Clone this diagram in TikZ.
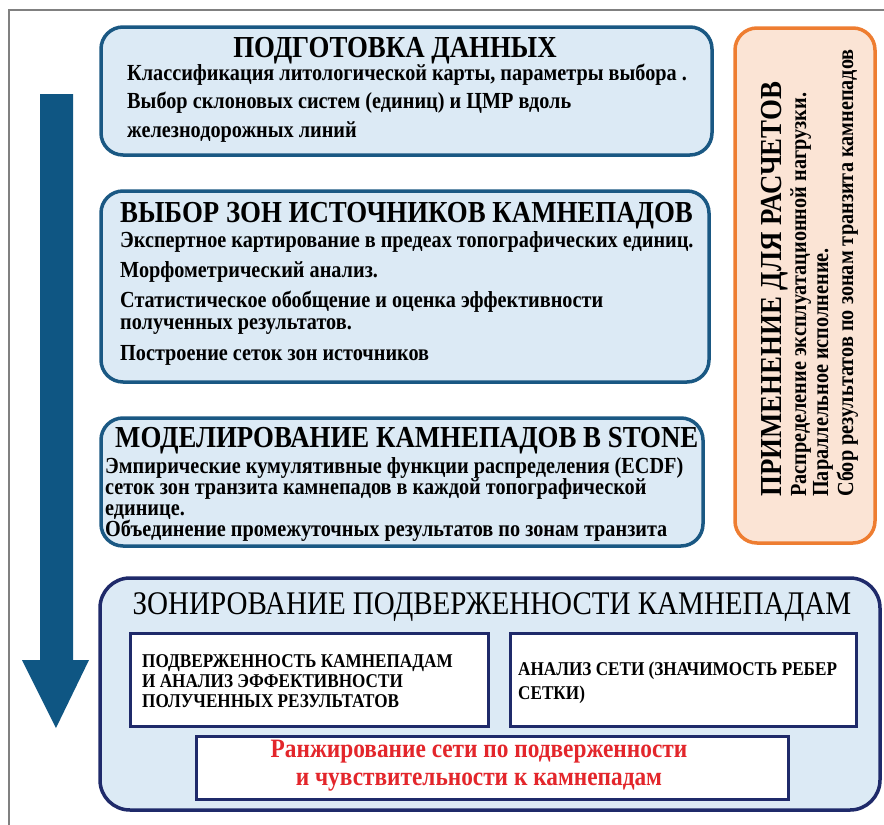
\documentclass[tikz,border=0pt]{standalone}
\usepackage{fontspec}
\setmainfont{Liberation Serif}[FakeStretch=0.88]
\usetikzlibrary{positioning}
\definecolor{boxblue}{HTML}{DCEAF5}
\definecolor{edgeblue}{HTML}{1A5883}
\definecolor{arrowblue}{HTML}{0F5683}
\definecolor{navy}{HTML}{1F2A6A}
\definecolor{peach}{HTML}{FBE4D5}
\definecolor{orangeedge}{HTML}{EE7D31}
\definecolor{rankred}{HTML}{E3262B}
\definecolor{framegray}{HTML}{808080}

\begin{document}
\begin{tikzpicture}[x=1pt, y=-1pt,
  stage/.style={draw=edgeblue, fill=boxblue, line width=3.5pt, rounded corners=22pt, inner sep=0pt},
  usebox/.style={draw=orangeedge, fill=peach, line width=3.5pt, rounded corners=22pt, inner sep=0pt},
  zonebox/.style={draw=navy, fill=boxblue, line width=3.5pt, rounded corners=30pt, inner sep=0pt},
  subbox/.style={draw=navy, fill=white, line width=3pt, inner sep=0pt},
  head/.style={font=\bfseries\fontsize{30.5}{32}\selectfont, inner sep=0pt, anchor=base west},
  line/.style={font=\bfseries\fontsize{23}{24}\selectfont, inner sep=0pt, anchor=base west},
  capline/.style={font=\bfseries\fontsize{19.5}{21}\selectfont, inner sep=0pt, anchor=base west},
  redline/.style={font=\bfseries\fontsize{26.5}{28}\selectfont, text=rankred, inner sep=0pt, anchor=base}]
\useasboundingbox (0,0) rectangle (884,825);
% frame
\draw[framegray, line width=2pt] (9,825) -- (9,10) -- (884,10);
% flow arrow
\fill[arrowblue] (40,94) -- (73,94) -- (73,660) -- (89,660) -- (56,728) -- (22,660) -- (40,660) -- cycle;

% boxes
\node[stage, minimum width=611pt, minimum height=128pt] (prep) at (406.5,91) {};
\node[stage, minimum width=608pt, minimum height=191pt] (source) at (405,286.5) {};
\node[stage, minimum width=602pt, minimum height=128pt] (model) at (402,482) {};
\node[usebox, minimum width=140pt, minimum height=515pt] (apply) at (805,285.5) {};
\node[zonebox, minimum width=780pt, minimum height=232pt] (zoning) at (490,694) {};
\node[subbox, minimum width=358pt, minimum height=93pt] (suscept) at (309,679.5) {};
\node[subbox, minimum width=346pt, minimum height=93pt] (network) at (683,679.5) {};
\node[subbox, minimum width=592pt, minimum height=63pt] (ranking) at (492,767.5) {};

% data preparation
\node[head, anchor=base] (prepT) at (395,57) {ПОДГОТОВКА ДАННЫХ};
\node[line] (prepA) at (127,80) {Классификация литологической карты, параметры выбора .};
\node[line] (prepB) at (127,108) {Выбор склоновых систем (единиц) и ЦМР вдоль};
\node[line] (prepC) at (127,137) {железнодорожных линий};

% source zones
\node[head] (sourceT) at (120,222) {ВЫБОР ЗОН ИСТОЧНИКОВ КАМНЕПАДОВ};
\node[line] (sourceA) at (120,247) {Экспертное картирование в предеах топографических единиц.};
\node[line] (sourceB) at (120,277) {Морфометрический анализ.};
\node[line] (sourceC) at (120,307) {Статистическое обобщение и оценка эффективности};
\node[line] (sourceD) at (120,329) {полученных результатов.};
\node[line] (sourceE) at (120,360) {Построение сеток зон источников};

% modelling
\node[head] (modelT) at (115,447) {МОДЕЛИРОВАНИЕ КАМНЕПАДОВ В STONE};
\node[line] (modelA) at (105,473) {Эмпирические кумулятивные функции распределения (ECDF)};
\node[line] (modelB) at (105,494) {сеток зон транзита камнепадов в каждой топографической};
\node[line] (modelC) at (105,515) {единице.};
\node[line] (modelD) at (105,536) {Объединение промежуточных результатов по зонам транзита};

% application
\node[head, rotate=90] (applyT) at (781,497) {ПРИМЕНЕНИЕ ДЛЯ РАСЧЕТОВ};
\node[line, rotate=90] (applyA) at (806,497) {Распределение эксплуатационной нагрузки.};
\node[line, rotate=90] (applyB) at (828,497) {Параллельное исполнение.};
\node[line, rotate=90] (applyC) at (853,497) {Сбор результатов по зонам транзита камнепадов};

% susceptibility zoning
\node[font=\fontsize{33}{35}\selectfont, inner sep=0pt, anchor=base] (zoningT) at (492,614) {ЗОНИРОВАНИЕ ПОДВЕРЖЕННОСТИ КАМНЕПАДАМ};
\node[capline] (susceptA) at (142,667) {ПОДВЕРЖЕННОСТЬ КАМНЕПАДАМ};
\node[capline] (susceptB) at (142,687) {И АНАЛИЗ ЭФФЕКТИВНОСТИ};
\node[capline] (susceptC) at (142,707) {ПОЛУЧЕННЫХ РЕЗУЛЬТАТОВ};
\node[capline] (networkA) at (518,675) {АНАЛИЗ СЕТИ (ЗНАЧИМОСТЬ РЕБЕР};
\node[capline] (networkB) at (518,699) {СЕТКИ)};
\node[redline] (rankingA) at (479,757) {Ранжирование сети по подверженности};
\node[redline] (rankingB) at (479,785) {и чувствительности к камнепадам};
\end{tikzpicture}
\end{document}
